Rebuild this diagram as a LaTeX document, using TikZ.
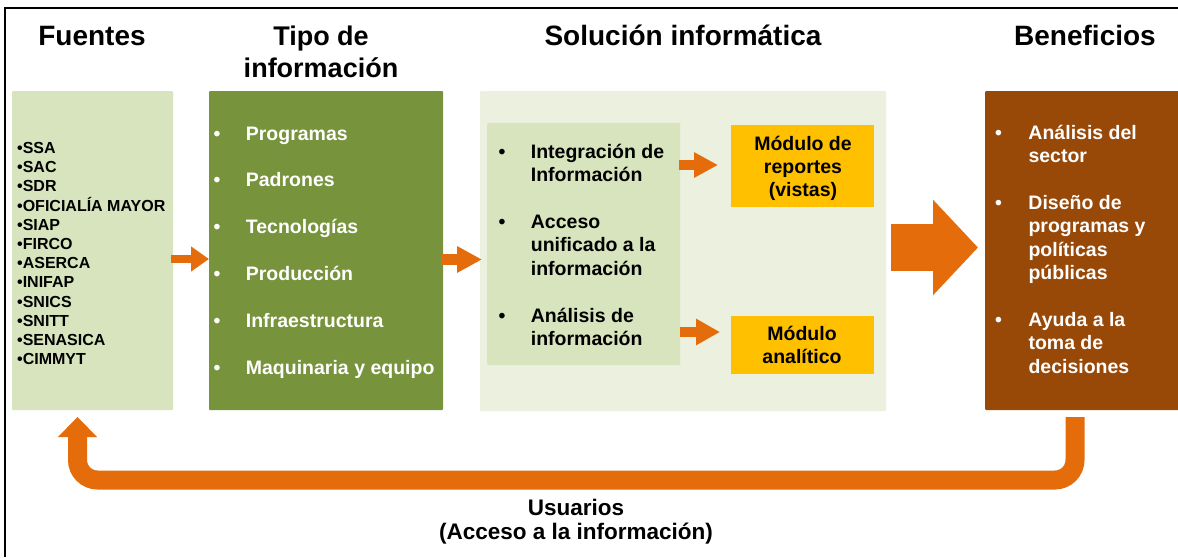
\documentclass[tikz,border=0pt]{standalone}
\usepackage{fontspec}
\setmainfont{Liberation Sans}
\usetikzlibrary{arrows.meta}
\definecolor{lgreen}{HTML}{D7E4BD}
\definecolor{dgreen}{HTML}{77933C}
\definecolor{pgreen}{HTML}{EBF1DE}
\definecolor{ygold}{HTML}{FFC000}
\definecolor{boxbrown}{HTML}{984807}
\definecolor{orng}{HTML}{E46C0A}
\newcommand\stackl[1]{\begin{tabular}[t]{@{}l@{}}#1\end{tabular}}
\newcommand\stackc[1]{\begin{tabular}[t]{@{}c@{}}#1\end{tabular}}
\begin{document}
\begin{tikzpicture}[x=1pt,y=-1pt,
  box/.style={inner sep=0pt, outer sep=0pt, anchor=north west, draw=none, rounded corners=1pt},
  lst/.style={inner sep=0pt, anchor=base west, font=\fontsize{19.5}{23.4}\selectfont\bfseries},
  ttl/.style={inner sep=0pt, anchor=base, font=\fontsize{28}{32}\selectfont\bfseries},
  src/.style={inner sep=0pt, anchor=base west, font=\fontsize{16}{19.2}\selectfont\bfseries}]
\useasboundingbox (0,0) rectangle (1178,557);
\fill[white] (0,0) rectangle (1178,557);
% frame
\draw[line width=1.8pt] (5,557) -- (5,8) -- (1178,8);
% boxes
\node[box, fill=lgreen, minimum width=161pt, minimum height=319pt] (src) at (12,91) {};
\node[box, fill=dgreen, minimum width=234pt, minimum height=319pt] (tipo) at (209,91) {};
\node[box, fill=pgreen, minimum width=406pt, minimum height=320pt] (sol) at (480,91) {};
\node[box, fill=lgreen, minimum width=193pt, minimum height=242pt] (inner) at (487,123) {};
\node[box, fill=ygold, minimum width=143pt, minimum height=82pt, rounded corners=0pt] (mrep) at (731,125) {};
\node[box, fill=ygold, minimum width=143pt, minimum height=58pt, rounded corners=0pt] (mana) at (731,316) {};
\node[box, fill=boxbrown, minimum width=194pt, minimum height=319pt] (ben) at (985,91) {};
% titles
\node[ttl] (h1) at (92,45) {Fuentes};
\node[ttl, font=\fontsize{27}{32}\selectfont\bfseries] (h2) at (321,45) {\stackc{Tipo de\\información}};
\node[ttl] (h3) at (683,45) {Solución informática};
\node[ttl] (h4) at (1085,45) {Beneficios};
% sources
\foreach \t [count=\i from 0] in {SSA,SAC,SDR,OFICIALÍA MAYOR,SIAP,FIRCO,ASERCA,INIFAP,SNICS,SNITT,SENASICA,CIMMYT}
  \node[src] (f\i) at (17,{153.5+19.2*\i}) {•\t};
% tipo
\foreach \t [count=\i from 0] in {Programas,Padrones,Tecnologías,Producción,Infraestructura,Maquinaria y equipo}
  \node[lst, text=white] (t\i) at (213.3,{140+46.8*\i}) {\makebox[32.4pt][l]{•}\t};
% solucion
\node[lst] (s1) at (498.3,158.3) {\makebox[32.4pt][l]{•}\stackl{Integración de\\Información}};
\node[lst] (s2) at (498.3,228.5) {\makebox[32.4pt][l]{•}\stackl{Acceso\\unificado a la\\información}};
\node[lst] (s3) at (498.3,322.1) {\makebox[32.4pt][l]{•}\stackl{Análisis de\\información}};
\node[lst, anchor=base] (mrept) at (803,150) {\stackc{Módulo de\\reportes\\(vistas)}};
\node[lst, anchor=base] (manat) at (802,340) {\stackc{Módulo\\analítico}};
% beneficios
\node[lst, text=white] (b1) at (994.9,139.3) {\makebox[33.4pt][l]{•}\stackl{Análisis del\\sector}};
\node[lst, text=white] (b2) at (994.9,209.5) {\makebox[33.4pt][l]{•}\stackl{Diseño de\\programas y\\políticas\\públicas}};
\node[lst, text=white] (b3) at (994.9,326.5) {\makebox[33.4pt][l]{•}\stackl{Ayuda a la\\toma de\\decisiones}};
% bottom label
\node[inner sep=0pt, anchor=base, font=\fontsize{22.5}{24.5}\selectfont\bfseries] (usr) at (576,515) {\stackc{Usuarios\\(Acceso a la información)}};
% arrows
\coordinate (y1) at (0,259);
\coordinate (y2) at (0,259.5);
\coordinate (y3) at (0,165);
\coordinate (y4) at (0,332);
\coordinate (y5) at (0,247.5);
\draw[orng, line width=8pt, shorten <=-2pt, -{Triangle[width=24pt,length=18pt]}] (src.east |- y1) -- (tipo.west |- y1);
\draw[orng, line width=11pt, shorten <=-2pt, shorten >=-2pt, -{Triangle[width=25pt,length=25pt]}] (tipo.east |- y2) -- (sol.west |- y2);
\draw[orng, line width=10pt, shorten <=-1pt, shorten >=13pt, -{Triangle[width=24pt,length=24pt]}] (inner.east |- y3) -- (mrep.west |- y3);
\draw[orng, line width=10pt, shorten >=11pt, -{Triangle[width=25pt,length=24pt]}] (inner.east |- y4) -- (mana.west |- y4);
\draw[orng, line width=47pt, shorten <=5pt, shorten >=7pt, -{Triangle[width=93pt,length=45pt]}] (sol.east |- y5) -- (ben.west |- y5);
% feedback arrow
\coordinate (ur) at (1075,480);
\coordinate (ul) at (77.5,480);
\draw[orng, line width=19pt, rounded corners=20pt, shorten <=7pt, shorten >=7pt, -{Triangle[width=38pt,length=20pt]}] (ben.south -| ur) -- (ur) -- (ul) -- (src.south -| ul);
\end{tikzpicture}
\end{document}
